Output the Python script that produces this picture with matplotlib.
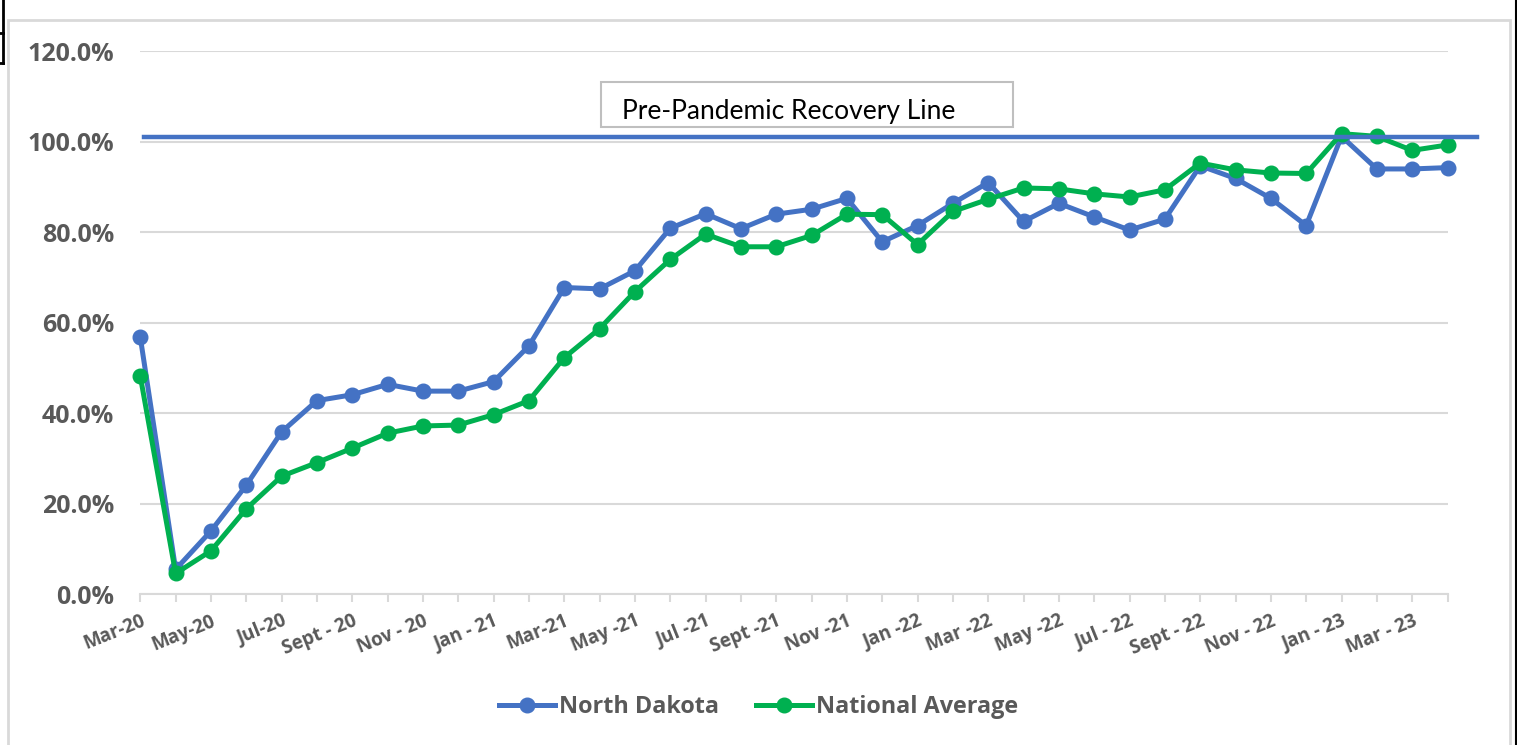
import matplotlib.pyplot as plt
from matplotlib.patches import Rectangle
from matplotlib.lines import Line2D
import numpy as np

# monthly values, Mar-20 .. Apr-23 (38 months)
north_dakota = [
    0.568, 0.055, 0.140, 0.241, 0.359, 0.428, 0.441, 0.464, 0.449, 0.449,
    0.470, 0.549, 0.678, 0.675, 0.715, 0.809, 0.841, 0.808, 0.840, 0.851,
    0.875, 0.779, 0.815, 0.864, 0.910, 0.824, 0.864, 0.834, 0.805, 0.829,
    0.947, 0.919, 0.875, 0.815, 1.012, 0.940, 0.940, 0.943,
]
national_average = [
    0.482, 0.046, 0.096, 0.189, 0.261, 0.291, 0.323, 0.356, 0.372, 0.374,
    0.397, 0.428, 0.523, 0.587, 0.669, 0.740, 0.796, 0.768, 0.768, 0.793,
    0.840, 0.839, 0.773, 0.846, 0.873, 0.898, 0.896, 0.885, 0.878, 0.894,
    0.953, 0.938, 0.931, 0.930, 1.018, 1.012, 0.981, 0.993,
]
# only every other month gets a label on the axis
tick_labels = [
    "Mar-20", "May-20", "Jul-20", "Sept - 20", "Nov - 20", "Jan - 21",
    "Mar-21", "May -21", "Jul -21", "Sept -21", "Nov -21", "Jan -22",
    "Mar -22", "May -22", "Jul - 22", "Sept - 22", "Nov - 22", "Jan - 23",
    "Mar - 23",
]
recovery_level = 1.01
recovery_text = "Pre-Pandemic Recovery Line"

BLUE = "#4472C4"
GREEN = "#00B050"
TEXT = "#595959"
GRID = "#D9D9D9"
BOLD_FONT = ['Open Sans', 'DejaVu Sans']

plt.rcParams['font.family'] = ['Lato', 'DejaVu Sans']

W, H = 1517, 745
fig = plt.figure(figsize=(W / 100, H / 100), dpi=100)

def px(x0, y0, x1, y1):
    # pixel box (top-left origin) -> figure fraction rect
    return [x0 / W, 1 - y1 / H, (x1 - x0) / W, (y1 - y0) / H]

ax = fig.add_axes(px(140.3, 51.3, 1447.5, 594.3))

LW, MS = 3.6, 10.5
n = len(north_dakota)
x = np.arange(n)
ax.plot(x, north_dakota, color=BLUE, lw=LW, marker="o", ms=MS, zorder=3, clip_on=False)
ax.plot(x, national_average, color=GREEN, lw=LW, marker="o", ms=MS, zorder=3, clip_on=False)

ax.set_xlim(0, n - 1)
ax.set_ylim(0, 1.2)
yt = np.arange(0, 1.21, 0.2)
ax.set_yticks(yt)
ax.set_yticklabels([f"{v * 100:.1f}%" for v in yt])
ax.grid(axis="y", color=GRID, lw=1.5)
ax.set_axisbelow(True)
for s in ["top", "right", "left"]:
    ax.spines[s].set_visible(False)
ax.spines["bottom"].set_color(GRID)
ax.spines["bottom"].set_linewidth(1.5)

ax.set_xticks(x)
ax.set_xticklabels([tick_labels[i // 2] if i % 2 == 0 else "" for i in x])
ax.tick_params(axis="x", length=6, color=GRID, width=1.5, colors=TEXT, pad=6)
ax.tick_params(axis="y", length=0, pad=19)
for lbl in ax.get_xticklabels():
    lbl.set_rotation(22)
    lbl.set_ha("right")
    lbl.set_va("top")
    lbl.set_rotation_mode("anchor")
    lbl.set_fontsize(13.5)
    lbl.set_fontweight("bold")
    lbl.set_family(BOLD_FONT)
    lbl.set_color(TEXT)
for lbl in ax.get_yticklabels():
    lbl.set_fontsize(18)
    lbl.set_fontweight("bold")
    lbl.set_family(BOLD_FONT)
    lbl.set_color(TEXT)

# recovery line runs a little past the plot area
ax.axhline(recovery_level, xmin=0.003, xmax=1.0226, color=BLUE, lw=3.2, clip_on=False, zorder=4)

# text box above the line
fig.patches.append(Rectangle((601 / W, 1 - 127 / H), 412 / W, 45 / H,
                             transform=fig.transFigure, fill=False,
                             edgecolor="#BFBFBF", lw=1.5))
fig.text(622 / W, 1 - 111 / H, recovery_text, fontsize=19, color="black",
         va="center", ha="left")

handles = [
    Line2D([], [], color=BLUE, lw=LW, marker="o", ms=MS),
    Line2D([], [], color=GREEN, lw=LW, marker="o", ms=MS),
]
leg = fig.legend(handles, ["North Dakota", "National Average"],
                 loc="center", bbox_to_anchor=(0.5, 1 - 707 / H), ncol=2,
                 frameon=False, handlelength=2.4, handletextpad=0.15,
                 columnspacing=1.6,
                 prop={"size": 16.8, "weight": "bold", "family": BOLD_FONT})
for t in leg.get_texts():
    t.set_color(TEXT)

# chart frame and page bits
fig.patches.append(Rectangle((8 / W, -0.05), (1510 - 8) / W, 1.05 - 20 / H,
                             transform=fig.transFigure, fill=False,
                             edgecolor=GRID, lw=2))
fig.lines.append(Line2D([1516 / W, 1516 / W], [0, 1], transform=fig.transFigure, color="black", lw=1.5))
fig.lines.append(Line2D([3 / W, 3 / W], [1 - 63 / H, 1], transform=fig.transFigure, color="black", lw=2))
fig.lines.append(Line2D([0, 3 / W], [1 - 33 / H, 1 - 33 / H], transform=fig.transFigure, color="black", lw=2))
fig.lines.append(Line2D([0, 3 / W], [1 - 63 / H, 1 - 63 / H], transform=fig.transFigure, color="black", lw=2))

fig.savefig("out.png", dpi=100)
